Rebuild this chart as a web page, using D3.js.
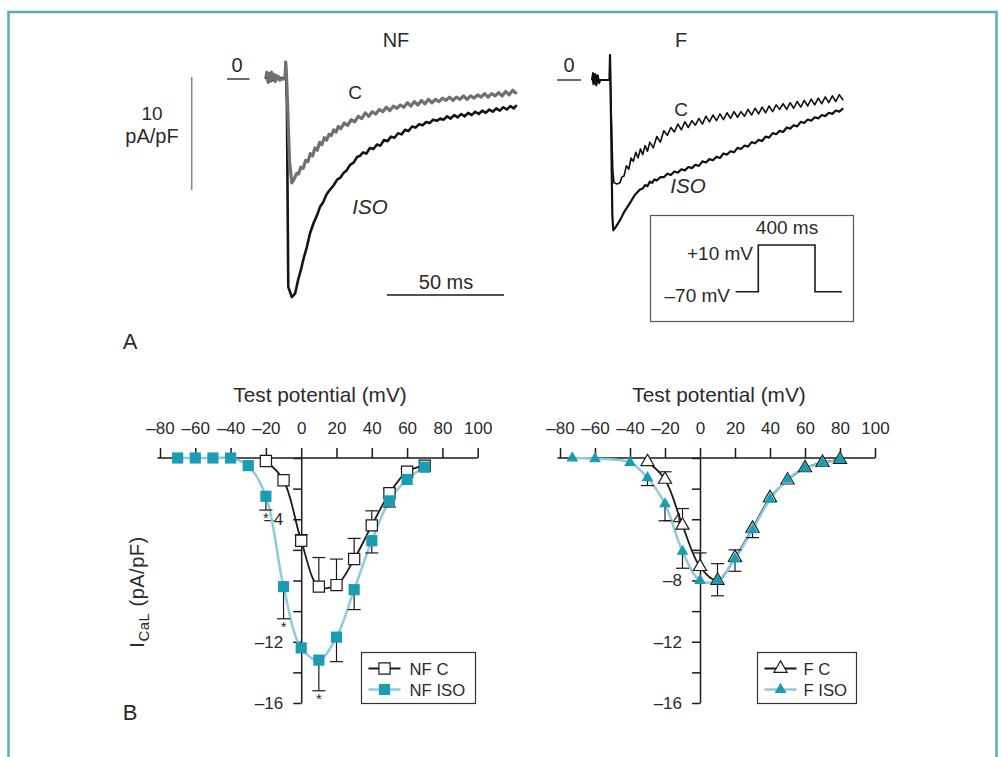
<!DOCTYPE html>
<html><head><meta charset="utf-8">
<script src="https://cdn.jsdelivr.net/npm/d3@7"></script>
<style>
html,body{margin:0;padding:0;background:#fff;}
svg{display:block;font-family:"Liberation Sans",Arial,Helvetica,sans-serif;}
</style></head><body>
<script>
// ---------- DATA ----------
// Panel A traces: [time (ms from step), current (pA/pF)]
const nfTraceC = [[-8.5,0.1],[-8,0.6],[-7.5,-0.2],[-7,0.5],[-6.5,-0.1],[-6,0.6],[-5.5,0],[-5,0.4],[-4.5,-0.2],[-4,0.3],[-3.5,0],[-3,0.2],[-2.5,-0.1],[-1.7,0],[-0.3,0],[0,1.5],[0.4,0],[1.0,-3.5],[1.6,-7.2],[2.6,-9.2],[3.5,-8.9],[4.7,-8.35],[5.5,-8.4],[6.5,-7.8],[7.5,-7.9],[8.5,-7.2],[9.5,-7.3],[10.5,-6.6],[11.5,-6.8],[12.5,-6.1],[13.5,-6.3],[14.5,-5.6],[15.5,-5.8],[16.5,-5.2],[17.5,-5.4],[18.5,-4.9],[19.5,-5.0],[20.5,-4.5],[21.5,-4.7],[22.5,-4.2],[23.5,-4.4],[25,-3.9],[26.5,-4.1],[28,-3.6],[29.5,-3.8],[31,-3.3],[32.5,-3.5],[34,-3.0],[35.5,-3.3],[37,-2.9],[38.5,-3.1],[40,-2.7],[41.5,-2.9],[43,-2.5],[44.5,-2.8],[46,-2.4],[47.5,-2.6],[49,-2.3],[50.5,-2.5],[52,-2.1],[53.5,-2.4],[55,-2.0],[56.5,-2.3],[58,-1.9],[59.5,-2.2],[61,-1.8],[62.5,-2.1],[64,-1.8],[65.5,-2.0],[67,-1.7],[68.5,-1.9],[70,-1.6],[71.5,-1.9],[73,-1.6],[74.5,-1.8],[76,-1.5],[77.5,-1.8],[79,-1.5],[80.5,-1.7],[82,-1.4],[83.5,-1.6],[85,-1.3],[86.5,-1.6],[88,-1.3],[89.5,-1.5],[91,-1.2],[92.5,-1.5],[94,-1.1],[95.5,-1.4],[97,-1.0],[98.7,-1.3]];
const nfTraceISO = [[-8.5,0],[-8,0.5],[-7.5,-0.3],[-7,0.4],[-6.5,-0.2],[-6,0.5],[-5.5,-0.1],[-5,0.3],[-4.5,-0.2],[-4,0.2],[-3,0],[-1.7,0.1],[-0.3,0],[0,1.5],[0.5,-2],[1.1,-18.4],[2.6,-19.3],[4.0,-19.0],[5.4,-17.7],[6.5,-16.9],[7.5,-16.0],[9,-14.9],[10.4,-13.65],[12,-12.7],[13.5,-12.0],[14.7,-11.3],[16,-10.9],[17.5,-10.2],[18.9,-9.8],[20.5,-9.4],[22,-8.9],[23.5,-8.7],[24.6,-8.35],[26,-8.1],[27.5,-7.6],[29,-7.4],[30.5,-6.9],[31.8,-6.8],[33,-6.5],[34.5,-6.6],[36,-6.1],[37.5,-6.2],[39,-5.8],[40.5,-5.9],[42,-5.4],[43.5,-5.5],[45,-5.1],[46.5,-5.2],[48,-4.8],[49.5,-4.9],[51,-4.5],[52.5,-4.6],[54,-4.2],[55.5,-4.3],[57,-4.0],[58.5,-4.1],[60,-3.8],[61.5,-3.9],[63,-3.6],[64.5,-3.7],[66,-3.5],[67.5,-3.6],[69,-3.3],[70.5,-3.5],[72,-3.2],[73.5,-3.4],[75,-3.1],[76.5,-3.3],[78,-3.0],[79.5,-3.2],[81,-2.9],[82.5,-3.1],[84,-2.8],[85.5,-3.0],[87,-2.7],[88.5,-2.9],[90,-2.6],[91.5,-2.8],[93,-2.5],[94.5,-2.7],[96,-2.4],[97.5,-2.6],[98.7,-2.3]];
const fTraceC = [[-7.7,0.2],[-7.1,-0.4],[-6.5,0.5],[-5.9,-0.5],[-5.3,0.4],[-4.6,-0.3],[-4.2,0],[-0.2,0],[0,2.2],[0.4,-2],[1.2,-8],[1.7,-9.1],[3,-9.2],[4.3,-9.1],[5,-8.6],[6,-8.5],[7,-7.6],[8,-7.9],[9,-6.9],[10,-7.2],[11,-6.4],[12,-6.9],[13,-6.1],[14,-6.6],[15,-5.8],[16,-6.3],[17,-5.5],[18.5,-6.0],[20,-5.0],[21.5,-5.5],[23,-4.5],[24.5,-4.9],[26,-4.2],[27.5,-4.6],[29,-3.9],[30.5,-4.4],[32,-3.7],[33.5,-4.2],[35,-3.6],[36.5,-4.0],[38,-3.4],[39.5,-3.9],[41,-3.2],[42.5,-3.7],[44,-3.1],[45.5,-3.6],[47,-3.0],[48.5,-3.5],[50,-2.9],[51.5,-3.4],[53,-2.8],[54.5,-3.3],[56,-2.8],[57.5,-3.2],[59,-2.6],[60.5,-3.1],[62,-2.5],[63.5,-3.0],[65,-2.4],[66.5,-2.9],[68,-2.3],[69.5,-2.8],[71,-2.2],[72.5,-2.6],[74,-2.1],[75.5,-2.6],[77,-2.0],[78.5,-2.5],[80,-1.9],[81.5,-2.4],[83,-1.8],[84.5,-2.3],[86,-1.7],[87.5,-2.2],[89,-1.6],[90.5,-2.1],[92,-1.5],[93.5,-2.0],[95,-1.4],[96.5,-1.9],[98,-1.3],[99.7,-1.8]];
const fTraceISO = [[-7.7,0],[-7.2,0.6],[-6.8,-0.3],[-6.3,0.5],[-5.8,-0.4],[-5.3,0.4],[-4.7,-0.2],[-4.2,0],[-0.2,0],[0,2.2],[0.4,-3],[1.0,-12],[1.4,-13.3],[2.5,-13.0],[4.3,-12.4],[6,-11.7],[8.5,-10.9],[10.5,-10.2],[12.8,-9.7],[14,-9.6],[15,-9.3],[16,-9.4],[17,-9.0],[18,-9.1],[19,-8.8],[20,-8.9],[21.5,-8.6],[23,-8.6],[24.5,-8.3],[26,-8.4],[27.5,-8.1],[29,-8.2],[30.5,-7.9],[32,-8.0],[33.5,-7.7],[35,-7.8],[36.5,-7.5],[38,-7.6],[39.5,-7.2],[41,-7.3],[42.5,-7.0],[44,-7.1],[45.5,-6.8],[47,-6.9],[48.5,-6.5],[50,-6.6],[51.5,-6.3],[53,-6.4],[54.5,-6.0],[56,-6.1],[57.5,-5.8],[59,-5.9],[60.5,-5.5],[62,-5.6],[63.5,-5.3],[65,-5.4],[66.5,-5.0],[68,-5.1],[69.5,-4.7],[71,-4.8],[72.5,-4.5],[74,-4.6],[75.5,-4.2],[77,-4.3],[78.5,-4.0],[80,-4.1],[81.5,-3.7],[83,-3.8],[84.5,-3.5],[86,-3.6],[87.5,-3.3],[89,-3.4],[90.5,-3.1],[92,-3.2],[93.5,-2.9],[95,-3.0],[96.5,-2.7],[98,-2.8],[99.7,-2.5]];
// Voltage protocol (inset)
const stepTimes = [-160, 0, 0, 400, 400, 590];
const stepVolts = [-70, -70, 10, 10, -70, -70];

// Panel B: I-V relationships
const xTicks = [-80,-60,-40,-20,0,20,40,60,80,100];
const yTicks = [0,-2,-4,-6,-8,-10,-12,-14,-16];
const yLabelsNF = [-4,-12,-16];
const yLabelsF = [-4,-8,-12,-16];

const nfCV   = [-20,-10,0,10,20,30,40,50,60,70];
const nfCI   = [-0.2,-1.45,-5.4,-8.4,-8.3,-6.6,-4.4,-2.3,-0.9,-0.5];
const nfCErr = [0,0,0.4,1.9,1.7,1.35,0.95,0.3,0.2,0];

const nfIsoV   = [-70,-60,-50,-40,-30,-20,-10,0,10,20,30,40,50,60,70];
const nfIsoI   = [0,0,0,0,-0.5,-2.5,-8.4,-12.4,-13.2,-11.7,-8.6,-5.4,-2.8,-1.4,-0.6];
const nfIsoErr = [0,0,0,0,0,0.9,2.1,0,2.0,1.6,1.3,0.8,0.4,0,0];
const nfStars  = [-20,-10,10];

const fCV   = [-30,-20,-10,0,10,20,30,40,50,60,70,80];
const fCI   = [-0.25,-1.4,-4.4,-7.1,-8.0,-6.5,-4.6,-2.6,-1.45,-0.65,-0.3,-0.1];
const fCErr = [0,0.5,1.1,0.9,1.1,0.5,0,0,0,0,0,0];

const fIsoV   = [-73,-60,-40,-30,-20,-10,0,10,20,30,40,50,60,70,80];
const fIsoI   = [0,-0.05,-0.3,-1.3,-3.0,-6.1,-8.0,-8.0,-6.6,-4.7,-2.7,-1.4,-0.65,-0.35,-0.1];
const fIsoErr = [0,0,0,0.5,1.1,1.1,0,1.0,0.8,0.5,0,0,0,0,0];

// ---------- STYLE ----------
const TEAL = "#1a9cb2", LIGHTBLUE = "#8fcbd9", INK = "#1b1b1b", TXT = "#2a2a2a";

const W = 999, H = 757;
const svg = d3.select("body").append("svg").attr("width", W).attr("height", H);
svg.append("rect").attr("width", W).attr("height", H).attr("fill", "#fff");
// frame
svg.append("rect").attr("x", 8.5).attr("y", 12).attr("width", 988).attr("height", 770)
  .attr("fill", "none").attr("stroke", "#5aaeb3").attr("stroke-width", 2.5);

function txt(x, y, s, opt = {}) {
  return svg.append("text").attr("x", x).attr("y", y)
    .attr("text-anchor", opt.anchor || "middle")
    .attr("font-size", opt.size || 20)
    .attr("font-style", opt.italic ? "italic" : null)
    .attr("fill", opt.fill || TXT).text(s);
}

// ---------- PANEL A ----------
const iTop = d3.scaleLinear().domain([0, -10]).range([79, 192]);
const tNF = d3.scaleLinear().domain([0, 100]).range([285.7, 519.7]);
const iTopF = d3.scaleLinear().domain([0, -10]).range([80, 193]);
const tF = d3.scaleLinear().domain([0, 100]).range([610, 844]);

const lineNF = d3.line().x(d => tNF(d[0])).y(d => iTop(d[1]));
const lineF = d3.line().x(d => tF(d[0])).y(d => iTopF(d[1]));

svg.append("path").attr("d", lineNF(nfTraceISO)).attr("fill", "none").attr("stroke", "#151515").attr("stroke-width", 2.6).attr("stroke-linejoin", "round");
svg.append("path").attr("d", lineNF(nfTraceC)).attr("fill", "none").attr("stroke", "#707070").attr("stroke-width", 3.2).attr("stroke-linejoin", "round");
svg.append("path").attr("d", lineF(fTraceISO)).attr("fill", "none").attr("stroke", "#111").attr("stroke-width", 2.2).attr("stroke-linejoin", "round");
svg.append("path").attr("d", lineF(fTraceC)).attr("fill", "none").attr("stroke", "#111").attr("stroke-width", 1.6).attr("stroke-linejoin", "round");

// titles & labels
txt(396, 47, "NF");
txt(681, 47, "F");
txt(355, 99, "C", {size: 19});
txt(370, 214, "ISO", {italic: true, size: 20.5});
txt(681, 116, "C", {size: 19});
txt(688, 193, "ISO", {italic: true, size: 20.5});

// zero markers
txt(237, 72, "0");
svg.append("line").attr("x1", 227).attr("x2", 249.5).attr("y1", iTop(0)).attr("y2", iTop(0)).attr("stroke", INK).attr("stroke-width", 1.3);
txt(569, 72, "0");
svg.append("line").attr("x1", 557).attr("x2", 581).attr("y1", iTopF(0)).attr("y2", iTopF(0)).attr("stroke", INK).attr("stroke-width", 1.3);

// scale bars
const barTop = 77;
svg.append("line").attr("x1", 191.7).attr("x2", 191.7).attr("y1", barTop)
  .attr("y2", barTop + (iTop(-10) - iTop(0))).attr("stroke", "#8a8a8a").attr("stroke-width", 1.6);
txt(152, 120, "10", {size: 19});
txt(152, 143, "pA/pF", {size: 20});
const msLeft = 387;
svg.append("line").attr("x1", msLeft).attr("x2", msLeft + (tNF(50) - tNF(0))).attr("y1", 295).attr("y2", 295)
  .attr("stroke", INK).attr("stroke-width", 1.3);
txt(446, 289, "50 ms", {size: 20});

// inset protocol
svg.append("rect").attr("x", 650.5).attr("y", 215.5).attr("width", 203).attr("height", 106)
  .attr("fill", "none").attr("stroke", "#555").attr("stroke-width", 1.2);
const stepT = d3.scaleLinear().domain([0, 400]).range([758.3, 815]);
const stepY = d3.scaleLinear().domain([-70, 10]).range([291.7, 245]);
svg.append("path").attr("d", d3.line().x((d, i) => stepT(stepTimes[i])).y((d, i) => stepY(stepVolts[i]))(stepTimes))
  .attr("fill", "none").attr("stroke", INK).attr("stroke-width", 1.6);
txt(787, 234, "400 ms", {size: 19});
txt(753, 260, "+10 mV", {size: 19, anchor: "end"});
txt(730, 302, "\u201370 mV", {size: 19, anchor: "end"});

txt(130, 349, "A", {size: 22});
txt(130, 720, "B", {size: 22});

// ---------- PANEL B ----------
const yIV = d3.scaleLinear().domain([0, -16]).range([458, 703]);

function ivChart(cfg) {
  const x = d3.scaleLinear().domain([-80, 100]).range(cfg.xr);
  const g = svg.append("g");
  const x0 = x(0);

  // x axis (top ticks)
  const ax = g.append("g").attr("transform", `translate(0,${yIV(0)})`)
    .call(d3.axisTop(x).tickValues(xTicks).tickSize(10).tickSizeOuter(0).tickPadding(14)
      .tickFormat(d => d < 0 ? "\u2013" + Math.abs(d) : String(d)));
  ax.select(".domain").attr("d", `M${x(-81.5)},0H${x(100)}`);
  ax.selectAll("line,path").attr("stroke", INK).attr("stroke-width", 1.5);
  ax.selectAll("text").attr("font-size", 17).attr("fill", TXT).attr("font-family", null);

  // y axis through 0 mV
  const ay = g.append("g").attr("transform", `translate(${x0},0)`)
    .call(d3.axisLeft(yIV).tickValues(yTicks).tickSize(8).tickSizeOuter(0).tickPadding(10)
      .tickFormat(d => cfg.yLabels.includes(d) ? "\u2013" + Math.abs(d) : ""));
  ay.selectAll("line,path").attr("stroke", INK).attr("stroke-width", 1.5);
  ay.selectAll("text").attr("font-size", 17).attr("fill", TXT).attr("font-family", null);

  // title
  g.append("text").attr("x", cfg.titleX).attr("y", 402).attr("text-anchor", "middle")
    .attr("font-size", 20.8).attr("fill", TXT).text("Test potential (mV)");

  const curve = d3.curveCatmullRom.alpha(0.5);
  const ln = d3.line().x(d => x(d[0])).y(d => yIV(d[1])).curve(curve);

  cfg.series.forEach(s => {
    const pts = s.v.map((v, i) => [v, s.i[i]]);
    g.append("path").attr("d", ln(pts)).attr("fill", "none")
      .attr("stroke", s.lineColor).attr("stroke-width", s.lineWidth);
  });
  cfg.series.forEach(s => {
    // error bars
    s.v.forEach((v, i) => {
      const e = s.err[i];
      if (!e) return;
      const y1 = yIV(s.i[i]), y2 = yIV(s.i[i] + s.dir * e);
      g.append("line").attr("x1", x(v)).attr("x2", x(v)).attr("y1", y1).attr("y2", y2)
        .attr("stroke", INK).attr("stroke-width", 1.2);
      g.append("line").attr("x1", x(v) - 6.5).attr("x2", x(v) + 6.5).attr("y1", y2).attr("y2", y2)
        .attr("stroke", INK).attr("stroke-width", 1.2);
    });
  });
  cfg.series.forEach(s => {
    s.v.forEach((v, i) => {
      g.append("path").attr("d", d3.symbol().type(s.shape).size(s.size)())
        .attr("transform", `translate(${x(v)},${yIV(s.i[i])})`)
        .attr("fill", s.fill).attr("stroke", s.stroke).attr("stroke-width", s.stroke === "none" ? 0 : 1.2);
    });
  });
  if (cfg.stars) {
    const s = cfg.series[cfg.stars.series];
    cfg.stars.v.forEach(v => {
      const i = s.v.indexOf(v);
      const yc = yIV(s.i[i] + s.dir * s.err[i]);
      g.append("text").attr("x", x(v)).attr("y", yc + 13).attr("text-anchor", "middle")
        .attr("font-size", 15).attr("fill", TXT).text("*");
    });
  }

  // legend
  const L = cfg.legend;
  g.append("rect").attr("x", L.x).attr("y", L.y).attr("width", L.w).attr("height", 51)
    .attr("fill", "#fff").attr("stroke", "#333").attr("stroke-width", 1.2);
  cfg.series.forEach((s, k) => {
    const yy = L.y + 16 + k * 21;
    g.append("line").attr("x1", L.x + 7).attr("x2", L.x + 39).attr("y1", yy).attr("y2", yy)
      .attr("stroke", s.lineColor).attr("stroke-width", s.lineWidth);
    g.append("path").attr("d", d3.symbol().type(s.shape).size(s.size)())
      .attr("transform", `translate(${L.x + 23},${yy})`)
      .attr("fill", s.fill).attr("stroke", s.stroke).attr("stroke-width", s.stroke === "none" ? 0 : 1.2);
    g.append("text").attr("x", L.x + L.tx).attr("y", yy + 6).attr("font-size", 16.7)
      .attr("fill", TXT).text(s.name);
  });
}

ivChart({
  xr: [160, 477.7], titleX: 320, yLabels: yLabelsNF,
  series: [
    {name: "NF C", v: nfCV, i: nfCI, err: nfCErr, dir: 1, shape: d3.symbolSquare, size: 125,
     fill: "#fff", stroke: INK, lineColor: INK, lineWidth: 1.8},
    {name: "NF ISO", v: nfIsoV, i: nfIsoI, err: nfIsoErr, dir: -1, shape: d3.symbolSquare, size: 125,
     fill: TEAL, stroke: "none", lineColor: LIGHTBLUE, lineWidth: 2.5}
  ],
  stars: {series: 1, v: nfStars},
  legend: {x: 361.5, y: 652.5, w: 114, tx: 48}
});

ivChart({
  xr: [560, 875], titleX: 719, yLabels: yLabelsF,
  series: [
    {name: "F C", v: fCV, i: fCI, err: fCErr, dir: 1, shape: d3.symbolTriangle, size: 75,
     fill: "#fff", stroke: INK, lineColor: INK, lineWidth: 1.8},
    {name: "F ISO", v: fIsoV, i: fIsoI, err: fIsoErr, dir: -1, shape: d3.symbolTriangle, size: 60,
     fill: TEAL, stroke: "none", lineColor: LIGHTBLUE, lineWidth: 2.5}
  ],
  legend: {x: 757.5, y: 652.5, w: 99, tx: 46}
});

// y-axis label (shared, left)
const yl = svg.append("text").attr("transform", "translate(144,592) rotate(-90)")
  .attr("text-anchor", "middle").attr("font-size", 20).attr("letter-spacing", 0.5).attr("fill", TXT);
yl.append("tspan").text("I");
yl.append("tspan").attr("font-size", 15).attr("dy", 5).text("CaL");
yl.append("tspan").attr("dy", -5).text(" (pA/pF)");
</script>
</body></html>
